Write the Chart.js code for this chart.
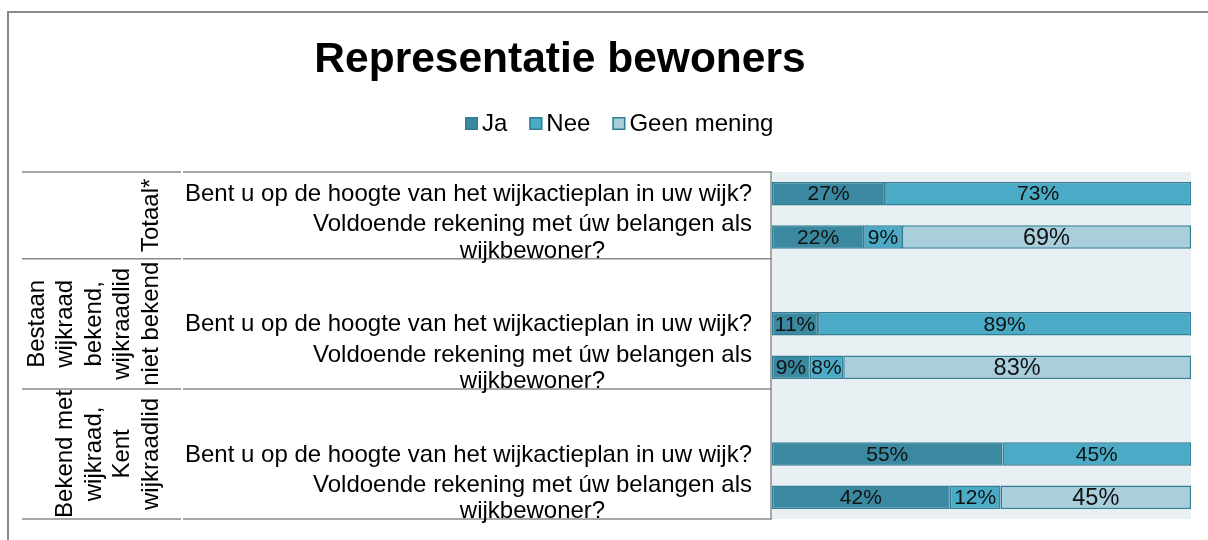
<!DOCTYPE html>
<html>
<head>
<meta charset="utf-8">
<script src="https://cdn.jsdelivr.net/npm/chart.js@4.4.0/dist/chart.umd.min.js"></script>
<style>
  html, body { margin:0; padding:0; background:#fff; overflow:hidden; }
  #frame { position:absolute; left:7px; top:11px; width:1300px; height:700px; border-top:2px solid #8a8a8a; border-left:2px solid #8a8a8a; }
  #wrap { position:absolute; left:0; top:0; width:1208px; height:540px; }
</style>
</head>
<body>
<div id="frame"></div>
<div id="wrap"><canvas id="chart"></canvas></div>
<script>
/* Representatie bewoners — 100% stacked bars */

const chartTitle = 'Representatie bewoners';
const seriesNames = ['Ja', 'Nee', 'Geen mening'];
const groupLabels = [
  ['Totaal*'],
  ['Bestaan', 'wijkraad', 'bekend,', 'wijkraadlid', 'niet bekend'],
  ['Bekend met', 'wijkraad,', 'Kent', 'wijkraadlid']
];
const questions = [
  ['Bent u op de hoogte van het wijkactieplan in uw wijk?'],
  ['Voldoende rekening met úw belangen als', 'wijkbewoner?']
];
// rows top to bottom, null question = empty spacer row
const categories  = ['T-1', 'T-2', 'B-0', 'B-1', 'B-2', 'K-0', 'K-1', 'K-2'];
const rowGroup    = [0, 0, 1, 1, 1, 2, 2, 2];
const rowQuestion = [0, 1, null, 0, 1, null, 0, 1];

const ja   = [27, 22, null, 11, 9, null, 55, 42];
const nee  = [73,  9, null, 89, 8, null, 45, 12];
const geen = [null, 69, null, null, 83, null, null, 45];

const colors  = ['#3B89A0', '#4BABC6', '#A9CFDC'];
const edge    = '#337E95';
const plotBg  = '#E8F0F3';
const lineCol = '#8a8a8a';
const FONT    = "'Liberation Sans', Arial, sans-serif";

const raw = [ja, nee, geen];
// Excel 100% stacked: each row scaled to its own total
const rowTotal = categories.map((c, i) => raw.reduce((s, arr) => s + (arr[i] || 0), 0));
const share = arr => arr.map((v, i) => v == null ? null : v / rowTotal[i] * 100);

const tablePlugin = {
  id: 'tablePlugin',
  beforeDraw(chart) {
    const {ctx, chartArea: a} = chart;
    ctx.save();
    ctx.fillStyle = plotBg;
    ctx.fillRect(a.left, a.top, a.right - a.left, a.bottom - a.top);
    ctx.restore();
  },
  afterDatasetsDraw(chart) {
    const {ctx} = chart;
    ctx.save();
    ctx.fillStyle = '#111';
    ctx.textAlign = 'center';
    ctx.textBaseline = 'middle';
    chart.data.datasets.forEach((ds, di) => {
      ctx.font = (di === 2 ? '23.5px ' : '21px ') + FONT;
      chart.getDatasetMeta(di).data.forEach((bar, i) => {
        const v = raw[di][i];
        if (v == null) return;
        const p = bar.getProps(['x', 'base', 'y'], true);
        ctx.fillText(v + '%', (p.x + p.base) / 2, p.y + 1);
      });
    });
    ctx.restore();
  },
  afterDraw(chart) {
    const {ctx, chartArea: a, scales: {y}} = chart;
    const step = y.getPixelForValue(1) - y.getPixelForValue(0);
    ctx.save();

    // title
    ctx.fillStyle = '#000';
    ctx.font = 'bold 42.5px ' + FONT;
    ctx.textAlign = 'center';
    ctx.textBaseline = 'alphabetic';
    ctx.fillText(chartTitle, 560, 72);

    // legend
    ctx.font = '24px ' + FONT;
    ctx.textAlign = 'left';
    ctx.textBaseline = 'middle';
    let lx = 465;
    seriesNames.forEach((name, i) => {
      ctx.fillStyle = colors[i];
      ctx.fillRect(lx, 117, 13, 13);
      ctx.strokeStyle = edge;
      ctx.lineWidth = 1.5;
      ctx.strokeRect(lx + 0.75, 117.75, 11.5, 11.5);
      ctx.fillStyle = '#000';
      ctx.fillText(name, lx + 17, 124);
      lx += 17 + ctx.measureText(name).width + 22;
    });

    // table lines
    ctx.strokeStyle = lineCol;
    ctx.lineWidth = 1.5;
    const bounds = [a.top];
    for (let i = 1; i < categories.length; i++) {
      if (rowGroup[i] !== rowGroup[i - 1]) bounds.push((y.getPixelForValue(i - 1) + y.getPixelForValue(i)) / 2);
    }
    bounds.push(a.bottom);
    ctx.beginPath();
    bounds.forEach(b => {
      ctx.moveTo(22, b); ctx.lineTo(181, b);
      ctx.moveTo(183, b); ctx.lineTo(a.left, b);
    });
    ctx.moveTo(a.left - 1, a.top); ctx.lineTo(a.left - 1, a.bottom);
    ctx.stroke();

    // question labels
    ctx.fillStyle = '#000';
    ctx.font = '24px ' + FONT;
    ctx.textAlign = 'center';
    categories.forEach((c, i) => {
      const q = rowQuestion[i];
      if (q == null) return;
      const lines = questions[q];
      const w = Math.max(...lines.map(l => ctx.measureText(l).width));
      const cx = a.left - 20 - w / 2;
      const cy = y.getPixelForValue(i);
      const lh = 26.5;
      lines.forEach((l, k) => ctx.fillText(l, cx, cy + (k - (lines.length - 1) / 2) * lh + 1));
    });

    // group labels, rotated
    groupLabels.forEach((lines, g) => {
      const rows = rowGroup.map((r, i) => r === g ? i : -1).filter(i => i >= 0);
      const top = y.getPixelForValue(rows[0]) - step / 2;
      const bot = y.getPixelForValue(rows[rows.length - 1]) + step / 2;
      const cy = (top + bot) / 2;
      lines.forEach((l, k) => {
        const x = 151 - (lines.length - 1 - k) * 28.5;
        ctx.save();
        ctx.translate(x, cy);
        ctx.rotate(-Math.PI / 2);
        ctx.fillText(l, 0, 0);
        ctx.restore();
      });
    });
    ctx.restore();
  }
};

new Chart(document.getElementById('chart'), {
  type: 'bar',
  data: {
    labels: categories,
    datasets: seriesNames.map((name, i) => ({
      label: name,
      data: share(raw[i]),
      backgroundColor: colors[i],
      borderColor: edge,
      borderWidth: 1.5,
      borderSkipped: false,
      barPercentage: 0.54,
      categoryPercentage: 1
    }))
  },
  options: {
    indexAxis: 'y',
    responsive: true,
    maintainAspectRatio: false,
    animation: false,
    layout: { padding: { left: 772, right: 17, top: 172, bottom: 21 } },
    plugins: { legend: { display: false }, title: { display: false }, tooltip: { enabled: false } },
    scales: {
      x: { stacked: true, min: 0, max: 100, display: false },
      y: { stacked: true, display: false }
    }
  },
  plugins: [tablePlugin]
});
</script>
</body>
</html>
